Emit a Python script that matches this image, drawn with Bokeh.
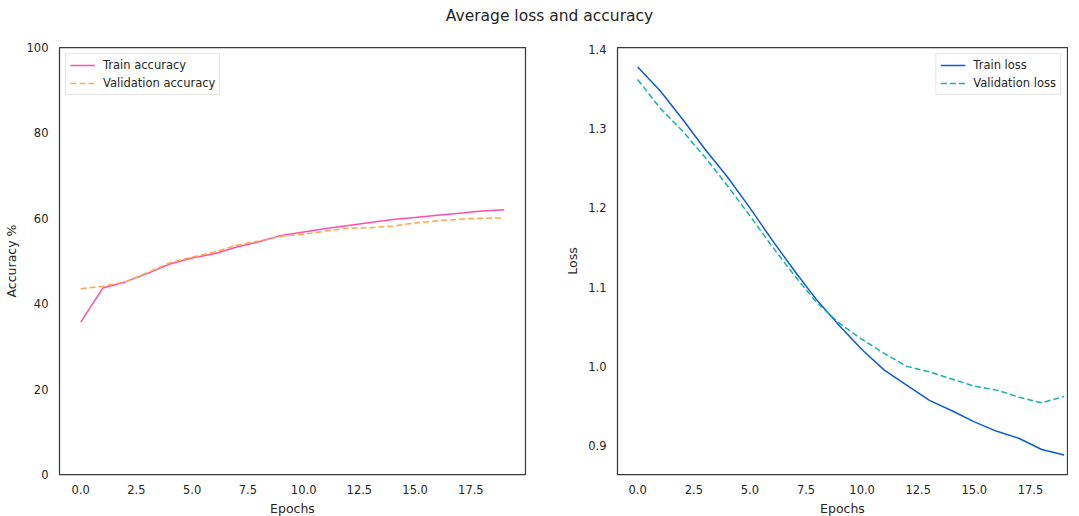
from bokeh.plotting import figure
from bokeh.models import Label, Legend, LegendItem, FixedTicker, PrintfTickFormatter, Range1d
from bokeh.layouts import column, row
from bokeh.embed import file_html
from bokeh.resources import INLINE

epochs = list(range(20))
train_acc = [35.7, 43.7, 45.1, 47.1, 49.3, 50.7, 51.7, 53.3, 54.5, 56.0,
             56.8, 57.6, 58.3, 59.0, 59.7, 60.2, 60.7, 61.2, 61.7, 62.0]
val_acc = [43.5, 44.1, 45.1, 47.3, 49.6, 50.9, 52.1, 53.7, 54.7, 55.8,
           56.3, 57.0, 57.7, 57.8, 58.2, 58.9, 59.4, 59.8, 60.0, 60.1]
train_loss = [1.378, 1.348, 1.312, 1.274, 1.239, 1.200, 1.159, 1.120, 1.083, 1.051,
              1.021, 0.995, 0.976, 0.957, 0.944, 0.930, 0.918, 0.909, 0.895, 0.888]
val_loss = [1.362, 1.326, 1.297, 1.264, 1.228, 1.190, 1.151, 1.114, 1.080, 1.054,
            1.034, 1.016, 1.000, 0.993, 0.984, 0.975, 0.970, 0.961, 0.954, 0.962]
x_ticks = [0, 2.5, 5, 7.5, 10, 12.5, 15, 17.5]
acc_ticks = [0, 20, 40, 60, 80, 100]
loss_ticks = [0.9, 1.0, 1.1, 1.2, 1.3, 1.4]

FONT = "DejaVu Sans"
TXT = "#262626"
EDGE = "#3a3a3a"


def style(p, xlabel, ylabel):
    p.grid.visible = False
    p.outline_line_color = EDGE
    p.outline_line_width = 1.25
    p.background_fill_color = "white"
    p.border_fill_color = "white"
    for ax in (p.xaxis[0], p.yaxis[0]):
        ax.axis_line_color = None
        ax.major_tick_line_color = None
        ax.minor_tick_line_color = None
        ax.major_tick_out = 0
        ax.major_tick_in = 0
        ax.minor_tick_out = 0
        ax.minor_tick_in = 0
        ax.major_label_text_font = FONT
        ax.major_label_text_font_size = "11.5px"
        ax.major_label_text_color = TXT
        ax.axis_label_text_font = FONT
        ax.axis_label_text_font_size = "12.5px"
        ax.axis_label_text_font_style = "normal"
        ax.axis_label_text_color = TXT
    p.xaxis[0].axis_label = xlabel
    p.yaxis[0].axis_label = ylabel
    p.xaxis[0].major_label_standoff = 10
    p.xaxis[0].axis_label_standoff = 4
    p.yaxis[0].major_label_standoff = 11
    p.yaxis[0].axis_label_standoff = 5
    p.xaxis[0].ticker = FixedTicker(ticks=x_ticks)
    p.xaxis[0].formatter = PrintfTickFormatter(format="%.1f")


def make_legend(items, loc):
    lg = Legend(items=items, location=loc)
    lg.label_text_font = FONT
    lg.label_text_font_size = "11.5px"
    lg.label_text_color = TXT
    lg.border_line_color = "#cccccc"
    lg.border_line_width = 1
    lg.background_fill_color = "white"
    lg.background_fill_alpha = 0.8
    lg.margin = 6
    lg.padding = 4
    lg.spacing = 4
    lg.glyph_width = 25
    lg.glyph_height = 14
    lg.label_height = 14
    lg.label_standoff = 8
    return lg


# Title strip
top = figure(width=1063, height=28, x_range=Range1d(0, 1), y_range=Range1d(0, 1),
             toolbar_location=None, output_backend="svg", min_border=0,
             x_axis_location=None, y_axis_location=None)
top.grid.visible = False
top.outline_line_color = None
top.add_layout(Label(x=549, y=13, x_units="screen", y_units="screen",
                     text="Average loss and accuracy", text_align="center",
                     text_baseline="middle", text_font=FONT, text_font_size="15.5px",
                     text_color=TXT))

# Left: accuracy
p1 = figure(frame_width=466, frame_height=427, x_range=Range1d(-0.95, 19.95),
            y_range=Range1d(0, 100), toolbar_location=None, output_backend="svg",
            min_border_left=53, min_border_right=37, min_border_top=19, min_border_bottom=0)
style(p1, "Epochs", "Accuracy %")
p1.yaxis[0].ticker = FixedTicker(ticks=acc_ticks)
r1 = p1.line(epochs, train_acc, line_color="#ff4fa8", line_width=1.5)
r2 = p1.line(epochs, val_acc, line_color="#ffa64d", line_width=1.5, line_dash="6 3")
p1.add_layout(make_legend([LegendItem(label="Train accuracy", renderers=[r1]),
                           LegendItem(label="Validation accuracy", renderers=[r2])], "top_left"))

# Right: loss
lo = min(train_loss + val_loss)
hi = max(train_loss + val_loss)
pad = (hi - lo) * 0.05
p2 = figure(frame_width=450, frame_height=427, x_range=Range1d(-0.9, 19.15),
            y_range=Range1d(lo - pad, hi + pad), toolbar_location=None, output_backend="svg",
            min_border_left=48, min_border_right=1, min_border_top=19, min_border_bottom=0)
style(p2, "Epochs", "Loss")
p2.yaxis[0].ticker = FixedTicker(ticks=loss_ticks)
p2.yaxis[0].formatter = PrintfTickFormatter(format="%.1f")
r3 = p2.line(epochs, train_loss, line_color="#0b5bd8", line_width=1.5)
r4 = p2.line(epochs, val_loss, line_color="#14b1ad", line_width=1.5, line_dash="6 3")
p2.add_layout(make_legend([LegendItem(label="Train loss", renderers=[r3]),
                           LegendItem(label="Validation loss", renderers=[r4])], "top_right"))

layout = column(top, row(p1, p2, spacing=0), spacing=0)
open("out.html", "w").write(file_html(layout, INLINE))
